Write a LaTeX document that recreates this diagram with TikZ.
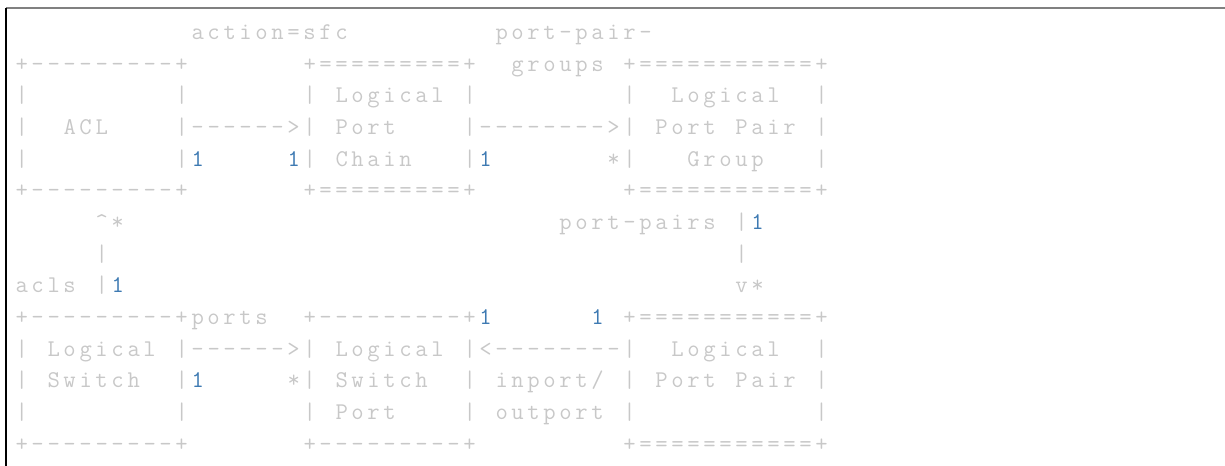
\documentclass[tikz,border=0pt]{standalone}
\usepackage{xcolor}

\definecolor{asciigray}{RGB}{200,200,200}
\definecolor{asciiblue}{RGB}{62,122,178}
\definecolor{rulegray}{RGB}{128,128,128}

% one character per fixed cell
\newlength\cellw
\setlength\cellw{12pt}
\def\monostop{\monostop}
\def\mono#1{\monostep#1\monostop}
\def\monostep#1{\ifx\monostop#1\else\makebox[\cellw]{#1}\expandafter\monostep\fi}

\begin{document}
\begin{tikzpicture}[x=12pt, y=-23.775pt,
		asc/.style={anchor=base west, inner sep=0pt, outer sep=0pt, text=asciigray,
			font=\fontsize{18pt}{18pt}\selectfont\ttfamily},
		one/.style={asc, text=asciiblue}]
	\useasboundingbox (-0.856,-0.24) rectangle (75.71,14.46);
	% code block frame
	\draw[rulegray, line width=1.5pt] (-0.48,0) -- (75.71,0);
	\draw[black, line width=1.2pt] (-0.48,0) -- (-0.48,14.46);

	% top row of tables
	\foreach \col/\frag in {11/action=sfc, 30/port-pair-}
		\node[asc] (r1-\col) at (\col,1) {\expandafter\mono\expandafter{\frag}};
	\foreach \col/\frag in {0/+---------+, 18/+=========+, 31/groups, 38/+===========+}
		\node[asc] (r2-\col) at (\col,2) {\expandafter\mono\expandafter{\frag}};
	\foreach \col/\frag in {0/|, 10/|, 18/|, 20/Logical, 28/|, 38/|, 41/Logical, 50/|}
		\node[asc] (r3-\col) at (\col,3) {\expandafter\mono\expandafter{\frag}};
	\foreach \col/\frag in {0/|, 3/ACL, 10/|------>|, 20/Port, 28/|-------->|, 40/Port~Pair, 50/|}
		\node[asc] (r4-\col) at (\col,4) {\expandafter\mono\expandafter{\frag}};
	\foreach \col/\frag in {0/|, 10/|, 18/|, 20/Chain, 28/|, 37/*|, 42/Group, 50/|}
		\node[asc] (r5-\col) at (\col,5) {\expandafter\mono\expandafter{\frag}};
	\foreach \col/\frag in {0/+---------+, 18/+=========+, 38/+===========+}
		\node[asc] (r6-\col) at (\col,6) {\expandafter\mono\expandafter{\frag}};

	% links between the rows
	\foreach \col/\frag in {5/\textasciicircum*, 34/port-pairs~|}
		\node[asc] (r7-\col) at (\col,7) {\expandafter\mono\expandafter{\frag}};
	\foreach \col/\frag in {5/|, 45/|}
		\node[asc] (r8-\col) at (\col,8) {\expandafter\mono\expandafter{\frag}};
	\foreach \col/\frag in {0/acls~|, 45/v*}
		\node[asc] (r9-\col) at (\col,9) {\expandafter\mono\expandafter{\frag}};

	% bottom row of tables
	\foreach \col/\frag in {0/+---------+ports, 18/+---------+, 38/+===========+}
		\node[asc] (r10-\col) at (\col,10) {\expandafter\mono\expandafter{\frag}};
	\foreach \col/\frag in {0/|, 2/Logical, 10/|------>|, 20/Logical, 28/|<--------|, 41/Logical, 50/|}
		\node[asc] (r11-\col) at (\col,11) {\expandafter\mono\expandafter{\frag}};
	\foreach \col/\frag in {0/|, 2/Switch, 10/|, 17/*|, 20/Switch, 28/|, 30/{inport/}, 38/|, 40/Port~Pair, 50/|}
		\node[asc] (r12-\col) at (\col,12) {\expandafter\mono\expandafter{\frag}};
	\foreach \col/\frag in {0/|, 10/|, 18/|, 20/Port, 28/|, 30/outport, 38/|, 50/|}
		\node[asc] (r13-\col) at (\col,13) {\expandafter\mono\expandafter{\frag}};
	\foreach \col/\frag in {0/+---------+, 18/+---------+, 38/+===========+}
		\node[asc] (r14-\col) at (\col,14) {\expandafter\mono\expandafter{\frag}};

	% cardinalities
	\foreach \col/\row in {11/5, 17/5, 29/5, 46/7, 6/9, 29/10, 36/10, 11/12}
		\node[one] (one-\row-\col) at (\col,\row) {\mono{1}};
\end{tikzpicture}
\end{document}
